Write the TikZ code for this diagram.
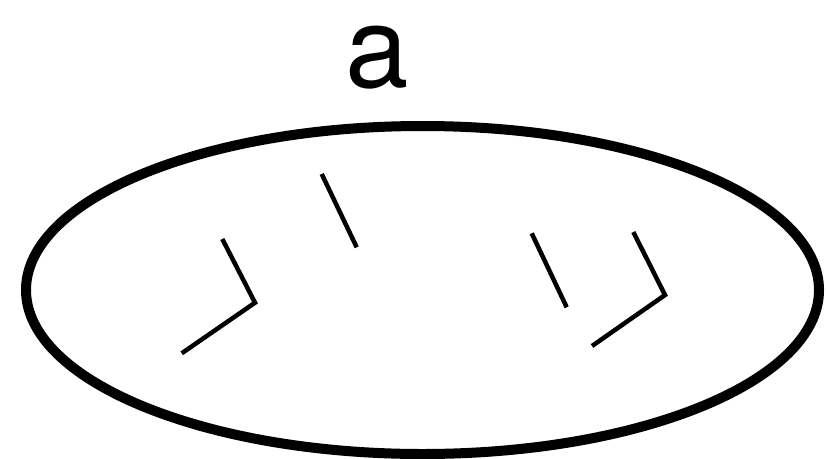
\documentclass[tikz,border=0pt]{standalone}
\usepackage{fontspec}
\setmainfont{TeX Gyre Heros}
\begin{document}
\begin{tikzpicture}[x=1pt,y=-1pt,
  rim/.style={line width=10pt},
  tick/.style={line width=4.5pt}]
\useasboundingbox (0,0) rectangle (826,458);

\node (lbl) at (377.5,57.5) {\fontsize{114}{114}\selectfont a};

\draw[rim] (422.5,290) ellipse [x radius=396.5, y radius=164];

\draw[tick] (222.3,239) -- (255,302.7) -- (181.7,353.3);
\draw[tick] (321.7,174) -- (356.7,247.3);

\draw[tick] (531.7,233.3) -- (566.7,307.3);
\draw[tick] (633.3,232) -- (665,295) -- (592,346);
\end{tikzpicture}
\end{document}
